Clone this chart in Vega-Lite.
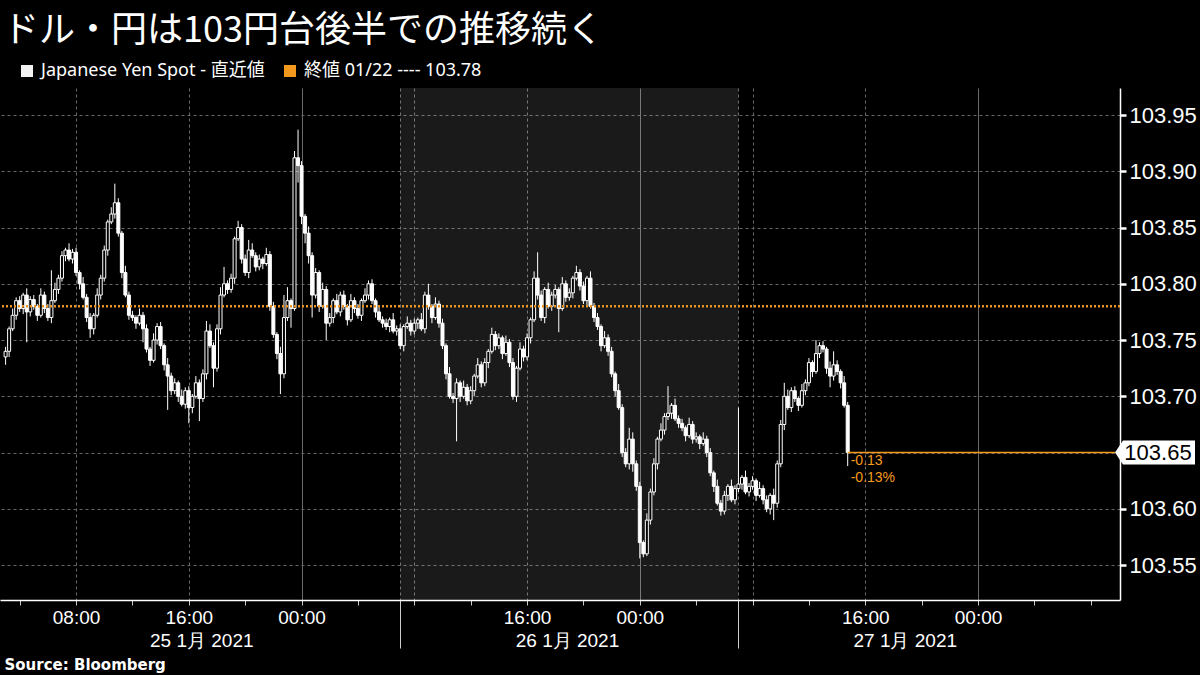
{
  "$schema": "https://vega.github.io/schema/vega-lite/v6.json",
  "autosize": {"type": "none"},
  "width": 1120,
  "height": 512,
  "padding": {"left": 0, "right": 80, "top": 88, "bottom": 75},
  "background": "black",
  "title": {
    "text": "ドル・円は103円台後半での推移続く",
    "anchor": "start",
    "frame": "group",
    "font": "Noto Sans CJK JP",
    "fontSize": 36,
    "fontWeight": "normal",
    "color": "white",
    "offset": 6,
    "dx": 3,
    "dy": -6
  },
  "config": {
    "view": {"stroke": null},
    "axis": {"labelFont": "Liberation Sans", "labelColor": "white", "domainColor": "white"}
  },
  "datasets": {
    "candles": [
      {"t":"2021-01-25T03:00Z","o":103.735,"h":103.744,"l":103.728,"c":103.740},
      {"t":"2021-01-25T03:15Z","o":103.740,"h":103.762,"l":103.735,"c":103.760},
      {"t":"2021-01-25T03:30Z","o":103.760,"h":103.778,"l":103.758,"c":103.772},
      {"t":"2021-01-25T03:45Z","o":103.772,"h":103.788,"l":103.768,"c":103.785},
      {"t":"2021-01-25T04:00Z","o":103.785,"h":103.789,"l":103.775,"c":103.778},
      {"t":"2021-01-25T04:15Z","o":103.778,"h":103.792,"l":103.773,"c":103.790},
      {"t":"2021-01-25T04:30Z","o":103.790,"h":103.796,"l":103.748,"c":103.775},
      {"t":"2021-01-25T04:45Z","o":103.775,"h":103.789,"l":103.771,"c":103.786},
      {"t":"2021-01-25T05:00Z","o":103.786,"h":103.790,"l":103.777,"c":103.780},
      {"t":"2021-01-25T05:15Z","o":103.780,"h":103.782,"l":103.767,"c":103.772},
      {"t":"2021-01-25T05:30Z","o":103.772,"h":103.796,"l":103.770,"c":103.790},
      {"t":"2021-01-25T05:45Z","o":103.790,"h":103.793,"l":103.774,"c":103.778},
      {"t":"2021-01-25T06:00Z","o":103.778,"h":103.782,"l":103.767,"c":103.770},
      {"t":"2021-01-25T06:15Z","o":103.770,"h":103.812,"l":103.765,"c":103.785},
      {"t":"2021-01-25T06:30Z","o":103.785,"h":103.801,"l":103.783,"c":103.795},
      {"t":"2021-01-25T06:45Z","o":103.795,"h":103.808,"l":103.791,"c":103.805},
      {"t":"2021-01-25T07:00Z","o":103.805,"h":103.829,"l":103.802,"c":103.825},
      {"t":"2021-01-25T07:15Z","o":103.825,"h":103.832,"l":103.820,"c":103.830},
      {"t":"2021-01-25T07:30Z","o":103.830,"h":103.836,"l":103.820,"c":103.822},
      {"t":"2021-01-25T07:45Z","o":103.822,"h":103.831,"l":103.818,"c":103.828},
      {"t":"2021-01-25T08:00Z","o":103.828,"h":103.832,"l":103.807,"c":103.810},
      {"t":"2021-01-25T08:15Z","o":103.810,"h":103.812,"l":103.795,"c":103.800},
      {"t":"2021-01-25T08:30Z","o":103.800,"h":103.806,"l":103.786,"c":103.788},
      {"t":"2021-01-25T08:45Z","o":103.788,"h":103.791,"l":103.766,"c":103.770},
      {"t":"2021-01-25T09:00Z","o":103.770,"h":103.774,"l":103.752,"c":103.760},
      {"t":"2021-01-25T09:15Z","o":103.760,"h":103.774,"l":103.755,"c":103.772},
      {"t":"2021-01-25T09:30Z","o":103.772,"h":103.796,"l":103.770,"c":103.790},
      {"t":"2021-01-25T09:45Z","o":103.790,"h":103.808,"l":103.786,"c":103.805},
      {"t":"2021-01-25T10:00Z","o":103.805,"h":103.834,"l":103.802,"c":103.830},
      {"t":"2021-01-25T10:15Z","o":103.830,"h":103.857,"l":103.825,"c":103.855},
      {"t":"2021-01-25T10:30Z","o":103.855,"h":103.868,"l":103.853,"c":103.862},
      {"t":"2021-01-25T10:45Z","o":103.862,"h":103.889,"l":103.858,"c":103.872},
      {"t":"2021-01-25T11:00Z","o":103.872,"h":103.876,"l":103.842,"c":103.845},
      {"t":"2021-01-25T11:15Z","o":103.845,"h":103.847,"l":103.805,"c":103.810},
      {"t":"2021-01-25T11:30Z","o":103.810,"h":103.816,"l":103.788,"c":103.790},
      {"t":"2021-01-25T11:45Z","o":103.790,"h":103.793,"l":103.768,"c":103.772},
      {"t":"2021-01-25T12:00Z","o":103.772,"h":103.776,"l":103.767,"c":103.770},
      {"t":"2021-01-25T12:15Z","o":103.770,"h":103.772,"l":103.760,"c":103.765},
      {"t":"2021-01-25T12:30Z","o":103.765,"h":103.778,"l":103.763,"c":103.772},
      {"t":"2021-01-25T12:45Z","o":103.772,"h":103.775,"l":103.748,"c":103.760},
      {"t":"2021-01-25T13:00Z","o":103.760,"h":103.764,"l":103.739,"c":103.742},
      {"t":"2021-01-25T13:15Z","o":103.742,"h":103.744,"l":103.727,"c":103.732},
      {"t":"2021-01-25T13:30Z","o":103.732,"h":103.756,"l":103.730,"c":103.750},
      {"t":"2021-01-25T13:45Z","o":103.750,"h":103.765,"l":103.746,"c":103.762},
      {"t":"2021-01-25T14:00Z","o":103.762,"h":103.766,"l":103.742,"c":103.745},
      {"t":"2021-01-25T14:15Z","o":103.745,"h":103.747,"l":103.723,"c":103.728},
      {"t":"2021-01-25T14:30Z","o":103.728,"h":103.734,"l":103.688,"c":103.718},
      {"t":"2021-01-25T14:45Z","o":103.718,"h":103.721,"l":103.701,"c":103.705},
      {"t":"2021-01-25T15:00Z","o":103.705,"h":103.716,"l":103.702,"c":103.712},
      {"t":"2021-01-25T15:15Z","o":103.712,"h":103.714,"l":103.695,"c":103.700},
      {"t":"2021-01-25T15:30Z","o":103.700,"h":103.706,"l":103.691,"c":103.693},
      {"t":"2021-01-25T15:45Z","o":103.693,"h":103.708,"l":103.689,"c":103.705},
      {"t":"2021-01-25T16:00Z","o":103.705,"h":103.709,"l":103.676,"c":103.690},
      {"t":"2021-01-25T16:15Z","o":103.690,"h":103.702,"l":103.685,"c":103.700},
      {"t":"2021-01-25T16:30Z","o":103.700,"h":103.718,"l":103.698,"c":103.712},
      {"t":"2021-01-25T16:45Z","o":103.712,"h":103.715,"l":103.678,"c":103.698},
      {"t":"2021-01-25T17:00Z","o":103.698,"h":103.724,"l":103.695,"c":103.720},
      {"t":"2021-01-25T17:15Z","o":103.720,"h":103.767,"l":103.715,"c":103.758},
      {"t":"2021-01-25T17:30Z","o":103.758,"h":103.764,"l":103.743,"c":103.745},
      {"t":"2021-01-25T17:45Z","o":103.745,"h":103.748,"l":103.708,"c":103.725},
      {"t":"2021-01-25T18:00Z","o":103.725,"h":103.764,"l":103.722,"c":103.760},
      {"t":"2021-01-25T18:15Z","o":103.760,"h":103.797,"l":103.755,"c":103.790},
      {"t":"2021-01-25T18:30Z","o":103.790,"h":103.815,"l":103.788,"c":103.800},
      {"t":"2021-01-25T18:45Z","o":103.800,"h":103.803,"l":103.791,"c":103.795},
      {"t":"2021-01-25T19:00Z","o":103.795,"h":103.809,"l":103.792,"c":103.805},
      {"t":"2021-01-25T19:15Z","o":103.805,"h":103.842,"l":103.800,"c":103.840},
      {"t":"2021-01-25T19:30Z","o":103.840,"h":103.856,"l":103.838,"c":103.850},
      {"t":"2021-01-25T19:45Z","o":103.850,"h":103.853,"l":103.818,"c":103.822},
      {"t":"2021-01-25T20:00Z","o":103.822,"h":103.826,"l":103.807,"c":103.810},
      {"t":"2021-01-25T20:15Z","o":103.810,"h":103.839,"l":103.805,"c":103.830},
      {"t":"2021-01-25T20:30Z","o":103.830,"h":103.836,"l":103.823,"c":103.825},
      {"t":"2021-01-25T20:45Z","o":103.825,"h":103.828,"l":103.811,"c":103.815},
      {"t":"2021-01-25T21:00Z","o":103.815,"h":103.826,"l":103.812,"c":103.822},
      {"t":"2021-01-25T21:15Z","o":103.822,"h":103.824,"l":103.813,"c":103.818},
      {"t":"2021-01-25T21:30Z","o":103.818,"h":103.832,"l":103.816,"c":103.826},
      {"t":"2021-01-25T21:45Z","o":103.826,"h":103.829,"l":103.776,"c":103.780},
      {"t":"2021-01-25T22:00Z","o":103.780,"h":103.784,"l":103.752,"c":103.755},
      {"t":"2021-01-25T22:15Z","o":103.755,"h":103.757,"l":103.733,"c":103.738},
      {"t":"2021-01-25T22:30Z","o":103.738,"h":103.744,"l":103.702,"c":103.720},
      {"t":"2021-01-25T22:45Z","o":103.720,"h":103.790,"l":103.716,"c":103.770},
      {"t":"2021-01-25T23:00Z","o":103.770,"h":103.797,"l":103.767,"c":103.785},
      {"t":"2021-01-25T23:15Z","o":103.785,"h":103.787,"l":103.761,"c":103.778},
      {"t":"2021-01-25T23:30Z","o":103.778,"h":103.918,"l":103.776,"c":103.912},
      {"t":"2021-01-25T23:45Z","o":103.912,"h":103.937,"l":103.890,"c":103.905},
      {"t":"2021-01-26T00:00Z","o":103.905,"h":103.909,"l":103.853,"c":103.860},
      {"t":"2021-01-26T00:15Z","o":103.860,"h":103.862,"l":103.836,"c":103.845},
      {"t":"2021-01-26T00:30Z","o":103.845,"h":103.851,"l":103.818,"c":103.825},
      {"t":"2021-01-26T00:45Z","o":103.825,"h":103.828,"l":103.770,"c":103.790},
      {"t":"2021-01-26T01:00Z","o":103.790,"h":103.814,"l":103.787,"c":103.810},
      {"t":"2021-01-26T01:15Z","o":103.810,"h":103.812,"l":103.775,"c":103.780},
      {"t":"2021-01-26T01:30Z","o":103.780,"h":103.801,"l":103.778,"c":103.795},
      {"t":"2021-01-26T01:45Z","o":103.795,"h":103.798,"l":103.750,"c":103.765},
      {"t":"2021-01-26T02:00Z","o":103.765,"h":103.774,"l":103.762,"c":103.770},
      {"t":"2021-01-26T02:15Z","o":103.770,"h":103.787,"l":103.765,"c":103.785},
      {"t":"2021-01-26T02:30Z","o":103.785,"h":103.791,"l":103.773,"c":103.775},
      {"t":"2021-01-26T02:45Z","o":103.775,"h":103.793,"l":103.771,"c":103.790},
      {"t":"2021-01-26T03:00Z","o":103.790,"h":103.794,"l":103.777,"c":103.780},
      {"t":"2021-01-26T03:15Z","o":103.780,"h":103.782,"l":103.763,"c":103.768},
      {"t":"2021-01-26T03:30Z","o":103.768,"h":103.791,"l":103.766,"c":103.785},
      {"t":"2021-01-26T03:45Z","o":103.785,"h":103.788,"l":103.774,"c":103.778},
      {"t":"2021-01-26T04:00Z","o":103.778,"h":103.782,"l":103.769,"c":103.772},
      {"t":"2021-01-26T04:15Z","o":103.772,"h":103.787,"l":103.767,"c":103.785},
      {"t":"2021-01-26T04:30Z","o":103.785,"h":103.796,"l":103.783,"c":103.790},
      {"t":"2021-01-26T04:45Z","o":103.790,"h":103.803,"l":103.786,"c":103.800},
      {"t":"2021-01-26T05:00Z","o":103.800,"h":103.804,"l":103.782,"c":103.785},
      {"t":"2021-01-26T05:15Z","o":103.785,"h":103.787,"l":103.770,"c":103.775},
      {"t":"2021-01-26T05:30Z","o":103.775,"h":103.781,"l":103.766,"c":103.768},
      {"t":"2021-01-26T05:45Z","o":103.768,"h":103.771,"l":103.761,"c":103.765},
      {"t":"2021-01-26T06:00Z","o":103.765,"h":103.769,"l":103.759,"c":103.762},
      {"t":"2021-01-26T06:15Z","o":103.762,"h":103.770,"l":103.757,"c":103.768},
      {"t":"2021-01-26T06:30Z","o":103.768,"h":103.774,"l":103.756,"c":103.758},
      {"t":"2021-01-26T06:45Z","o":103.758,"h":103.763,"l":103.754,"c":103.760},
      {"t":"2021-01-26T07:00Z","o":103.760,"h":103.764,"l":103.742,"c":103.745},
      {"t":"2021-01-26T07:15Z","o":103.745,"h":103.764,"l":103.740,"c":103.762},
      {"t":"2021-01-26T07:30Z","o":103.762,"h":103.771,"l":103.760,"c":103.765},
      {"t":"2021-01-26T07:45Z","o":103.765,"h":103.768,"l":103.754,"c":103.758},
      {"t":"2021-01-26T08:00Z","o":103.758,"h":103.769,"l":103.755,"c":103.765},
      {"t":"2021-01-26T08:15Z","o":103.765,"h":103.770,"l":103.760,"c":103.768},
      {"t":"2021-01-26T08:30Z","o":103.768,"h":103.774,"l":103.758,"c":103.760},
      {"t":"2021-01-26T08:45Z","o":103.760,"h":103.793,"l":103.756,"c":103.790},
      {"t":"2021-01-26T09:00Z","o":103.790,"h":103.800,"l":103.777,"c":103.780},
      {"t":"2021-01-26T09:15Z","o":103.780,"h":103.782,"l":103.765,"c":103.770},
      {"t":"2021-01-26T09:30Z","o":103.770,"h":103.788,"l":103.768,"c":103.782},
      {"t":"2021-01-26T09:45Z","o":103.782,"h":103.785,"l":103.761,"c":103.765},
      {"t":"2021-01-26T10:00Z","o":103.765,"h":103.769,"l":103.742,"c":103.745},
      {"t":"2021-01-26T10:15Z","o":103.745,"h":103.747,"l":103.715,"c":103.720},
      {"t":"2021-01-26T10:30Z","o":103.720,"h":103.726,"l":103.698,"c":103.700},
      {"t":"2021-01-26T10:45Z","o":103.700,"h":103.703,"l":103.694,"c":103.698},
      {"t":"2021-01-26T11:00Z","o":103.698,"h":103.716,"l":103.660,"c":103.712},
      {"t":"2021-01-26T11:15Z","o":103.712,"h":103.714,"l":103.695,"c":103.700},
      {"t":"2021-01-26T11:30Z","o":103.700,"h":103.714,"l":103.698,"c":103.708},
      {"t":"2021-01-26T11:45Z","o":103.708,"h":103.711,"l":103.692,"c":103.696},
      {"t":"2021-01-26T12:00Z","o":103.696,"h":103.709,"l":103.693,"c":103.705},
      {"t":"2021-01-26T12:15Z","o":103.705,"h":103.720,"l":103.700,"c":103.718},
      {"t":"2021-01-26T12:30Z","o":103.718,"h":103.734,"l":103.716,"c":103.728},
      {"t":"2021-01-26T12:45Z","o":103.728,"h":103.731,"l":103.708,"c":103.712},
      {"t":"2021-01-26T13:00Z","o":103.712,"h":103.734,"l":103.709,"c":103.730},
      {"t":"2021-01-26T13:15Z","o":103.730,"h":103.742,"l":103.725,"c":103.740},
      {"t":"2021-01-26T13:30Z","o":103.740,"h":103.761,"l":103.738,"c":103.755},
      {"t":"2021-01-26T13:45Z","o":103.755,"h":103.758,"l":103.741,"c":103.745},
      {"t":"2021-01-26T14:00Z","o":103.745,"h":103.756,"l":103.742,"c":103.752},
      {"t":"2021-01-26T14:15Z","o":103.752,"h":103.754,"l":103.733,"c":103.738},
      {"t":"2021-01-26T14:30Z","o":103.738,"h":103.754,"l":103.736,"c":103.748},
      {"t":"2021-01-26T14:45Z","o":103.748,"h":103.751,"l":103.726,"c":103.730},
      {"t":"2021-01-26T15:00Z","o":103.730,"h":103.734,"l":103.697,"c":103.700},
      {"t":"2021-01-26T15:15Z","o":103.700,"h":103.727,"l":103.695,"c":103.725},
      {"t":"2021-01-26T15:30Z","o":103.725,"h":103.748,"l":103.723,"c":103.742},
      {"t":"2021-01-26T15:45Z","o":103.742,"h":103.745,"l":103.731,"c":103.735},
      {"t":"2021-01-26T16:00Z","o":103.735,"h":103.756,"l":103.732,"c":103.752},
      {"t":"2021-01-26T16:15Z","o":103.752,"h":103.770,"l":103.747,"c":103.768},
      {"t":"2021-01-26T16:30Z","o":103.768,"h":103.811,"l":103.766,"c":103.805},
      {"t":"2021-01-26T16:45Z","o":103.805,"h":103.828,"l":103.786,"c":103.790},
      {"t":"2021-01-26T17:00Z","o":103.790,"h":103.794,"l":103.767,"c":103.770},
      {"t":"2021-01-26T17:15Z","o":103.770,"h":103.797,"l":103.765,"c":103.795},
      {"t":"2021-01-26T17:30Z","o":103.795,"h":103.801,"l":103.778,"c":103.780},
      {"t":"2021-01-26T17:45Z","o":103.780,"h":103.793,"l":103.776,"c":103.790},
      {"t":"2021-01-26T18:00Z","o":103.790,"h":103.799,"l":103.787,"c":103.795},
      {"t":"2021-01-26T18:15Z","o":103.795,"h":103.797,"l":103.757,"c":103.778},
      {"t":"2021-01-26T18:30Z","o":103.778,"h":103.806,"l":103.776,"c":103.800},
      {"t":"2021-01-26T18:45Z","o":103.800,"h":103.803,"l":103.784,"c":103.788},
      {"t":"2021-01-26T19:00Z","o":103.788,"h":103.796,"l":103.785,"c":103.792},
      {"t":"2021-01-26T19:15Z","o":103.792,"h":103.807,"l":103.787,"c":103.805},
      {"t":"2021-01-26T19:30Z","o":103.805,"h":103.816,"l":103.803,"c":103.810},
      {"t":"2021-01-26T19:45Z","o":103.810,"h":103.813,"l":103.794,"c":103.798},
      {"t":"2021-01-26T20:00Z","o":103.798,"h":103.802,"l":103.782,"c":103.785},
      {"t":"2021-01-26T20:15Z","o":103.785,"h":103.807,"l":103.780,"c":103.805},
      {"t":"2021-01-26T20:30Z","o":103.805,"h":103.811,"l":103.778,"c":103.780},
      {"t":"2021-01-26T20:45Z","o":103.780,"h":103.783,"l":103.766,"c":103.770},
      {"t":"2021-01-26T21:00Z","o":103.770,"h":103.774,"l":103.759,"c":103.762},
      {"t":"2021-01-26T21:15Z","o":103.762,"h":103.764,"l":103.740,"c":103.745},
      {"t":"2021-01-26T21:30Z","o":103.745,"h":103.758,"l":103.743,"c":103.752},
      {"t":"2021-01-26T21:45Z","o":103.752,"h":103.755,"l":103.736,"c":103.740},
      {"t":"2021-01-26T22:00Z","o":103.740,"h":103.744,"l":103.717,"c":103.720},
      {"t":"2021-01-26T22:15Z","o":103.720,"h":103.722,"l":103.700,"c":103.705},
      {"t":"2021-01-26T22:30Z","o":103.705,"h":103.711,"l":103.688,"c":103.690},
      {"t":"2021-01-26T22:45Z","o":103.690,"h":103.693,"l":103.646,"c":103.650},
      {"t":"2021-01-26T23:00Z","o":103.650,"h":103.654,"l":103.637,"c":103.640},
      {"t":"2021-01-26T23:15Z","o":103.640,"h":103.672,"l":103.635,"c":103.662},
      {"t":"2021-01-26T23:30Z","o":103.662,"h":103.668,"l":103.633,"c":103.640},
      {"t":"2021-01-26T23:45Z","o":103.640,"h":103.643,"l":103.616,"c":103.620},
      {"t":"2021-01-27T00:00Z","o":103.620,"h":103.624,"l":103.556,"c":103.570},
      {"t":"2021-01-27T00:15Z","o":103.570,"h":103.572,"l":103.557,"c":103.560},
      {"t":"2021-01-27T00:30Z","o":103.560,"h":103.596,"l":103.558,"c":103.590},
      {"t":"2021-01-27T00:45Z","o":103.590,"h":103.618,"l":103.586,"c":103.615},
      {"t":"2021-01-27T01:00Z","o":103.615,"h":103.645,"l":103.612,"c":103.640},
      {"t":"2021-01-27T01:15Z","o":103.640,"h":103.664,"l":103.635,"c":103.662},
      {"t":"2021-01-27T01:30Z","o":103.662,"h":103.676,"l":103.660,"c":103.670},
      {"t":"2021-01-27T01:45Z","o":103.670,"h":103.685,"l":103.666,"c":103.682},
      {"t":"2021-01-27T02:00Z","o":103.682,"h":103.709,"l":103.679,"c":103.685},
      {"t":"2021-01-27T02:15Z","o":103.685,"h":103.694,"l":103.680,"c":103.692},
      {"t":"2021-01-27T02:30Z","o":103.692,"h":103.698,"l":103.678,"c":103.680},
      {"t":"2021-01-27T02:45Z","o":103.680,"h":103.683,"l":103.672,"c":103.676},
      {"t":"2021-01-27T03:00Z","o":103.676,"h":103.680,"l":103.669,"c":103.672},
      {"t":"2021-01-27T03:15Z","o":103.672,"h":103.674,"l":103.660,"c":103.665},
      {"t":"2021-01-27T03:30Z","o":103.665,"h":103.681,"l":103.663,"c":103.675},
      {"t":"2021-01-27T03:45Z","o":103.675,"h":103.678,"l":103.658,"c":103.662},
      {"t":"2021-01-27T04:00Z","o":103.662,"h":103.668,"l":103.659,"c":103.664},
      {"t":"2021-01-27T04:15Z","o":103.664,"h":103.666,"l":103.653,"c":103.658},
      {"t":"2021-01-27T04:30Z","o":103.658,"h":103.668,"l":103.656,"c":103.662},
      {"t":"2021-01-27T04:45Z","o":103.662,"h":103.665,"l":103.646,"c":103.650},
      {"t":"2021-01-27T05:00Z","o":103.650,"h":103.654,"l":103.629,"c":103.632},
      {"t":"2021-01-27T05:15Z","o":103.632,"h":103.634,"l":103.615,"c":103.620},
      {"t":"2021-01-27T05:30Z","o":103.620,"h":103.626,"l":103.603,"c":103.605},
      {"t":"2021-01-27T05:45Z","o":103.605,"h":103.608,"l":103.594,"c":103.598},
      {"t":"2021-01-27T06:00Z","o":103.598,"h":103.616,"l":103.595,"c":103.612},
      {"t":"2021-01-27T06:15Z","o":103.612,"h":103.622,"l":103.607,"c":103.620},
      {"t":"2021-01-27T06:30Z","o":103.620,"h":103.626,"l":103.606,"c":103.608},
      {"t":"2021-01-27T06:45Z","o":103.608,"h":103.621,"l":103.604,"c":103.618},
      {"t":"2021-01-27T07:00Z","o":103.618,"h":103.690,"l":103.615,"c":103.622},
      {"t":"2021-01-27T07:15Z","o":103.622,"h":103.630,"l":103.617,"c":103.628},
      {"t":"2021-01-27T07:30Z","o":103.628,"h":103.634,"l":103.613,"c":103.615},
      {"t":"2021-01-27T07:45Z","o":103.615,"h":103.623,"l":103.611,"c":103.620},
      {"t":"2021-01-27T08:00Z","o":103.620,"h":103.629,"l":103.617,"c":103.625},
      {"t":"2021-01-27T08:15Z","o":103.625,"h":103.627,"l":103.607,"c":103.612},
      {"t":"2021-01-27T08:30Z","o":103.612,"h":103.624,"l":103.610,"c":103.618},
      {"t":"2021-01-27T08:45Z","o":103.618,"h":103.621,"l":103.604,"c":103.608},
      {"t":"2021-01-27T09:00Z","o":103.608,"h":103.612,"l":103.597,"c":103.600},
      {"t":"2021-01-27T09:15Z","o":103.600,"h":103.614,"l":103.595,"c":103.612},
      {"t":"2021-01-27T09:30Z","o":103.612,"h":103.618,"l":103.590,"c":103.605},
      {"t":"2021-01-27T09:45Z","o":103.605,"h":103.643,"l":103.601,"c":103.640},
      {"t":"2021-01-27T10:00Z","o":103.640,"h":103.679,"l":103.637,"c":103.675},
      {"t":"2021-01-27T10:15Z","o":103.675,"h":103.712,"l":103.670,"c":103.700},
      {"t":"2021-01-27T10:30Z","o":103.700,"h":103.706,"l":103.688,"c":103.690},
      {"t":"2021-01-27T10:45Z","o":103.690,"h":103.708,"l":103.686,"c":103.705},
      {"t":"2021-01-27T11:00Z","o":103.705,"h":103.709,"l":103.695,"c":103.698},
      {"t":"2021-01-27T11:15Z","o":103.698,"h":103.700,"l":103.687,"c":103.692},
      {"t":"2021-01-27T11:30Z","o":103.692,"h":103.711,"l":103.690,"c":103.705},
      {"t":"2021-01-27T11:45Z","o":103.705,"h":103.715,"l":103.701,"c":103.712},
      {"t":"2021-01-27T12:00Z","o":103.712,"h":103.734,"l":103.709,"c":103.730},
      {"t":"2021-01-27T12:15Z","o":103.730,"h":103.732,"l":103.717,"c":103.722},
      {"t":"2021-01-27T12:30Z","o":103.722,"h":103.750,"l":103.720,"c":103.738},
      {"t":"2021-01-27T12:45Z","o":103.738,"h":103.748,"l":103.734,"c":103.745},
      {"t":"2021-01-27T13:00Z","o":103.745,"h":103.749,"l":103.739,"c":103.742},
      {"t":"2021-01-27T13:15Z","o":103.742,"h":103.744,"l":103.720,"c":103.725},
      {"t":"2021-01-27T13:30Z","o":103.725,"h":103.731,"l":103.708,"c":103.718},
      {"t":"2021-01-27T13:45Z","o":103.718,"h":103.740,"l":103.714,"c":103.728},
      {"t":"2021-01-27T14:00Z","o":103.728,"h":103.732,"l":103.719,"c":103.722},
      {"t":"2021-01-27T14:15Z","o":103.722,"h":103.724,"l":103.707,"c":103.712},
      {"t":"2021-01-27T14:30Z","o":103.712,"h":103.718,"l":103.690,"c":103.692},
      {"t":"2021-01-27T14:45Z","o":103.692,"h":103.695,"l":103.638,"c":103.650}
    ]
  },
  "layer": [
    {
      "data": {"values": [{"start": "2021-01-26T07:00Z", "end": "2021-01-27T07:00Z"}]},
      "mark": {"type": "rect", "fill": "white", "fillOpacity": 0.1},
      "encoding": {
        "x": {"field": "start", "type": "temporal", "scale": {"type": "utc", "domain": [{"year": 2021, "month": 1, "date": 25, "hours": 2, "minutes": 57, "seconds": 30, "utc": true}, {"year": 2021, "month": 1, "date": 28, "hours": 9, "minutes": 43, "utc": true}]}},
        "x2": {"field": "end"}
      }
    },
    {
      "data": {"name": "candles"},
      "mark": {"type": "rule", "color": "white", "strokeWidth": 1},
      "encoding": {
        "x": {
          "field": "t", "type": "temporal",
          "scale": {"type": "utc", "domain": [{"year": 2021, "month": 1, "date": 25, "hours": 2, "minutes": 57, "seconds": 30, "utc": true}, {"year": 2021, "month": 1, "date": 28, "hours": 9, "minutes": 43, "utc": true}]},
          "axis": {
            "title": "Source: Bloomberg",
            "titleColor": "white",
            "titleFont": "DejaVu Sans",
            "titleFontSize": 15,
            "titleFontWeight": "bold",
            "titleAnchor": "start",
            "titleAlign": "left",
            "titleBaseline": "alphabetic",
            "titleX": 4,
            "titleY": 69,
            "values": [1611547200000, 1611561600000, 1611576000000, 1611590400000, 1611593580000, 1611604800000, 1611619200000, 1611633600000, 1611644400000, 1611648000000, 1611662400000, 1611676800000, 1611687000000, 1611691200000, 1611705600000, 1611720000000, 1611730800000, 1611734400000, 1611748800000, 1611763200000, 1611773280000, 1611777600000, 1611792000000, 1611806400000, 1611820800000],
            "labelExpr": "utcminutes(datum.value) != 0 ? utcFormat(datum.value, '%d') + ' 1月 2021' : ((utchours(datum.value) % 8 == 0 && !(utchours(datum.value) == 8 && utcdate(datum.value) != 25)) ? utcFormat(datum.value, '%H:%M') : '')",
            "labelFontSize": 19,
            "labelColor": "white",
            "labelPadding": {"condition": {"test": "utcminutes(datum.value) != 0", "value": 26}, "value": 3},
            "labelOverlap": false,
            "labelBound": false,
            "labelFlush": false,
            "tickColor": "#cccccc",
            "tickSize": {"condition": {"test": "utchours(datum.value) == 7", "value": 48}, "value": 5},
            "tickOpacity": {"condition": {"test": "utcminutes(datum.value) != 0", "value": 0}, "value": 1},
            "grid": true,
            "gridColor": "#6a6a6a",
            "gridDash": {"condition": {"test": "utchours(datum.value) == 0 && utcminutes(datum.value) == 0", "value": []}, "value": [3, 3]},
            "gridOpacity": {"condition": {"test": "utcminutes(datum.value) == 0 && (utchours(datum.value) % 8 == 0 || utchours(datum.value) == 7) && datum.value <= 1611792000000", "value": 1}, "value": 0},
            "domainColor": "white",
            "domainWidth": 1.5
          }
        },
        "y": {
          "field": "l", "type": "quantitative",
          "scale": {"domain": [103.519, 103.974], "nice": false, "zero": false},
          "axis": {
            "orient": "right",
            "title": null,
            "values": [103.55, 103.6, 103.65, 103.7, 103.75, 103.8, 103.85, 103.9, 103.95],
            "labelExpr": "abs(datum.value - 103.65) < 0.001 ? '' : format(datum.value, '.2f')",
            "labelFontSize": 22,
            "labelColor": "white",
            "labelPadding": 3,
            "labelBaseline": "middle",
            "labelOverlap": false,
            "labelBound": false,
            "labelFlush": false,
            "tickColor": "white",
            "tickSize": 6,
            "tickWidth": 2.5,
            "grid": true,
            "gridColor": "#666666",
            "gridDash": [3, 3],
            "domainColor": "white",
            "domainWidth": 1.5
          }
        },
        "y2": {"field": "h"}
      }
    },
    {
      "data": {"name": "candles"},
      "mark": {"type": "bar", "width": 3, "stroke": "white", "strokeWidth": 1},
      "encoding": {
        "x": {"field": "t", "type": "temporal", "scale": {"type": "utc", "domain": [{"year": 2021, "month": 1, "date": 25, "hours": 2, "minutes": 57, "seconds": 30, "utc": true}, {"year": 2021, "month": 1, "date": 28, "hours": 9, "minutes": 43, "utc": true}]}},
        "y": {"field": "o", "type": "quantitative", "scale": {"domain": [103.519, 103.974], "nice": false, "zero": false}},
        "y2": {"field": "c"},
        "fill": {"condition": {"test": "datum.c < datum.o", "value": "white"}, "value": "black"}
      }
    },
    {
      "data": {"values": [{"close": 103.78}]},
      "mark": {"type": "rule", "color": "#e8941f", "strokeWidth": 2.5, "strokeDash": [2, 2]},
      "encoding": {
        "y": {"field": "close", "type": "quantitative", "scale": {"domain": [103.519, 103.974], "nice": false, "zero": false}}
      }
    },
    {
      "data": {"values": [{"last": 103.65, "from": "2021-01-27T14:45Z"}]},
      "mark": {"type": "rule", "color": "#f59a1b", "strokeWidth": 1.5},
      "encoding": {
        "x": {"field": "from", "type": "temporal", "scale": {"type": "utc", "domain": [{"year": 2021, "month": 1, "date": 25, "hours": 2, "minutes": 57, "seconds": 30, "utc": true}, {"year": 2021, "month": 1, "date": 28, "hours": 9, "minutes": 43, "utc": true}]}},
        "x2": {"datum": {"year": 2021, "month": 1, "date": 28, "hours": 9, "minutes": 43, "utc": true}},
        "y": {"field": "last", "type": "quantitative", "scale": {"domain": [103.519, 103.974], "nice": false, "zero": false}}
      }
    },
    {
      "data": {"values": [{"last": 103.65, "from": "2021-01-27T14:45Z", "chg": "-0.13\n-0.13%"}]},
      "mark": {"type": "text", "color": "#f59a1b", "font": "Liberation Sans", "fontSize": 14, "align": "left", "baseline": "top", "dx": 3, "dy": 1, "lineBreak": "\n", "lineHeight": 17},
      "encoding": {
        "x": {"field": "from", "type": "temporal", "scale": {"type": "utc", "domain": [{"year": 2021, "month": 1, "date": 25, "hours": 2, "minutes": 57, "seconds": 30, "utc": true}, {"year": 2021, "month": 1, "date": 28, "hours": 9, "minutes": 43, "utc": true}]}},
        "y": {"field": "last", "type": "quantitative", "scale": {"domain": [103.519, 103.974], "nice": false, "zero": false}},
        "text": {"field": "chg"}
      }
    },
    {
      "data": {"values": [{"last": 103.65, "label": "103.65"}]},
      "layer": [
        {
          "mark": {"type": "point", "shape": "M-1,0L-0.8,-0.3L1,-0.3L1,0.3L-0.8,0.3Z", "size": 6400, "filled": true, "color": "white", "opacity": 1, "xOffset": 40},
          "encoding": {
            "x": {"datum": {"year": 2021, "month": 1, "date": 28, "hours": 9, "minutes": 43, "utc": true}, "type": "temporal"},
            "y": {"field": "last", "type": "quantitative"}
          }
        },
        {
          "mark": {"type": "text", "color": "black", "font": "Liberation Sans", "fontSize": 22, "align": "center", "baseline": "middle", "xOffset": 43},
          "encoding": {
            "x": {"datum": {"year": 2021, "month": 1, "date": 28, "hours": 9, "minutes": 43, "utc": true}, "type": "temporal"},
            "y": {"field": "last", "type": "quantitative"},
            "text": {"field": "label"}
          }
        }
      ]
    },
    {
      "data": {"values": [{"s": "Japanese Yen Spot - 直近値"}, {"s": "終値 01/22 ---- 103.78"}]},
      "mark": {"type": "point", "shape": "square", "filled": true, "opacity": 0},
      "encoding": {
        "color": {
          "field": "s", "type": "nominal",
          "scale": {"domain": ["Japanese Yen Spot - 直近値", "終値 01/22 ---- 103.78"], "range": ["#f2f2f2", "#f39a1e"]},
          "legend": {
            "orient": "none", "legendX": 18, "legendY": -26, "direction": "horizontal", "title": null,
            "symbolType": "square", "symbolSize": 144, "symbolOpacity": 1, "symbolStrokeWidth": 0,
            "labelFontSize": 18, "labelColor": "white", "labelFont": "Noto Sans, Noto Sans CJK JP",
            "labelLimit": 500, "columnPadding": 16, "labelOffset": 5, "padding": 0
          }
        }
      }
    }
  ]
}
